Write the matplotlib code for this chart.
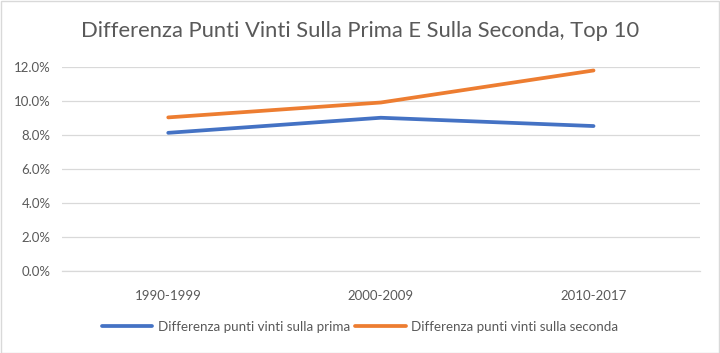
import matplotlib
matplotlib.use("Agg")
import matplotlib.pyplot as plt
from matplotlib.ticker import PercentFormatter, MultipleLocator
from matplotlib.patches import Rectangle

categories = ["1990-1999", "2000-2009", "2010-2017"]
prima = [0.0814, 0.0903, 0.0854]
seconda = [0.0905, 0.0993, 0.1182]
series_labels = ["Differenza punti vinti sulla prima", "Differenza punti vinti sulla seconda"]
title = "Differenza Punti Vinti Sulla Prima E Sulla Seconda, Top 10"

plt.rcParams['font.family'] = ['Lato', 'DejaVu Sans']
grey = "#595959"

fig = plt.figure(figsize=(7.2, 3.53), dpi=100)
ax = fig.add_axes([0.086, 0.233, 0.886, 0.576])

x = list(range(len(categories)))
ax.plot(x, prima, color="#4472C4", lw=2.7, solid_capstyle="round", label=series_labels[0])
ax.plot(x, seconda, color="#ED7D31", lw=2.7, solid_capstyle="round", label=series_labels[1])

ax.set_xlim(-0.5, 2.5)
ax.set_ylim(0, 0.12)
ax.yaxis.set_major_locator(MultipleLocator(0.02))
ax.yaxis.set_major_formatter(PercentFormatter(1.0, decimals=1))
ax.set_xticks(x)
ax.set_xticklabels(categories)
ax.grid(axis="y", color="#d9d9d9", lw=0.9)
ax.set_axisbelow(True)
for s in ["top", "right", "left"]:
    ax.spines[s].set_visible(False)
ax.spines["bottom"].set_color("#d9d9d9")
ax.spines["bottom"].set_linewidth(0.9)
ax.tick_params(axis="both", length=0, colors=grey, labelsize=9.5)
ax.tick_params(axis="x", pad=14)
ax.tick_params(axis="y", pad=8)

fig.text(0.5, 0.913, title, ha="center", va="center", fontsize=15.8, color=grey)

leg = fig.legend(loc="center", bbox_to_anchor=(0.5, 0.075), ncol=2, frameon=False,
                 fontsize=9.6, handlelength=3.8, handletextpad=0.4, columnspacing=0.4)
for t in leg.get_texts():
    t.set_color(grey)

fig.patches.append(Rectangle((0.001, 0.001), 0.998, 0.996, transform=fig.transFigure,
                             fill=False, edgecolor="#d9d9d9", lw=1))

fig.savefig("out.png", dpi=100)
